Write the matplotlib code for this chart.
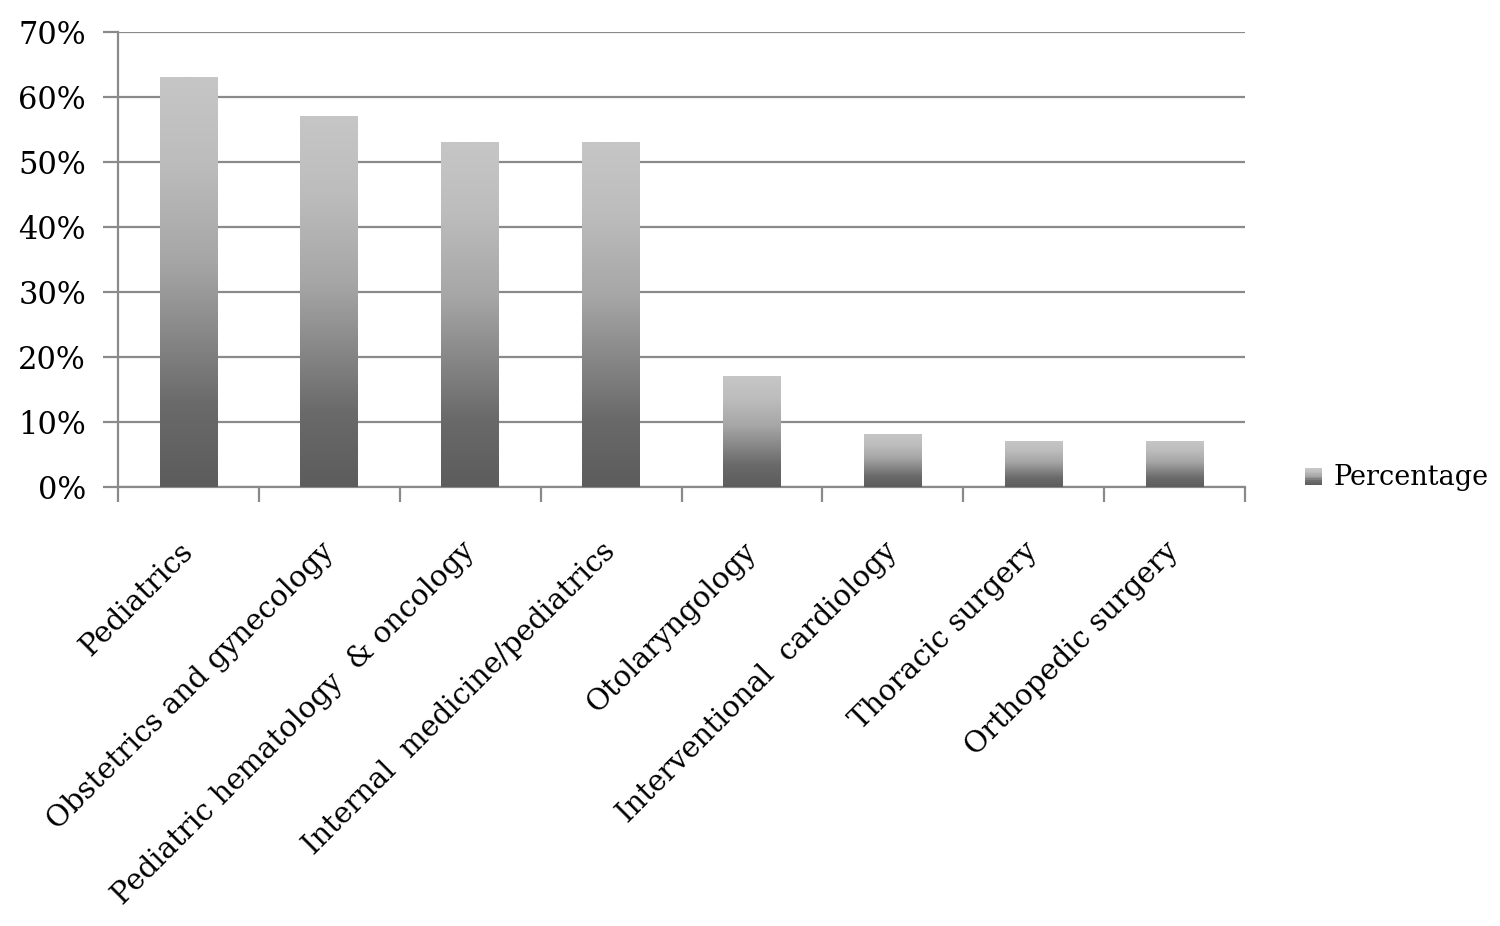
import numpy as np
import matplotlib
matplotlib.use("Agg")
import matplotlib.pyplot as plt
import matplotlib.transforms as mtransforms
from matplotlib.colors import LinearSegmentedColormap
from matplotlib.legend_handler import HandlerBase
from matplotlib.patches import Rectangle
from matplotlib.ticker import FuncFormatter, FixedLocator

categories = ["Pediatrics", "Obstetrics and gynecology", "Pediatric hematology  & oncology",
              "Internal  medicine/pediatrics", "Otolaryngology", "Interventional  cardiology",
              "Thoracic surgery", "Orthopedic surgery"]
percentage = [63, 57, 53, 53, 17, 8, 7, 7]
series_name = "Percentage"

plt.rcParams['font.family'] = ['DejaVu Serif']

cmap = LinearSegmentedColormap.from_list(
    "g", [(0.0, "#5c5c5c"), (0.2, "#6a6a6a"), (0.55, "#a6a6a6"), (0.8, "#bdbdbd"), (1.0, "#c6c6c6")])

fig = plt.figure(figsize=(15, 9.26), dpi=100)
ax = fig.add_axes([0.0787, 0.474, 0.7513, 0.4914])

x = np.arange(len(categories))
bars = ax.bar(x, percentage, width=0.41, color="none", edgecolor="none", zorder=3)
grad = np.linspace(0, 1, 256).reshape(-1, 1)
for b in bars:
    x0, w, h = b.get_x(), b.get_width(), b.get_height()
    ax.imshow(grad, cmap=cmap, origin="lower", aspect="auto",
              extent=(x0, x0 + w, 0, h), zorder=3, interpolation="bilinear")

ax.set_xlim(-0.5, len(categories) - 0.5)
ax.set_ylim(0, 70)
ax.yaxis.set_major_locator(FixedLocator(np.arange(0, 71, 10)))
ax.yaxis.set_major_formatter(FuncFormatter(lambda v, p: f"{int(v)}%"))
ax.grid(axis="y", color="#8a8a8a", linewidth=1.6, zorder=0)
ax.set_axisbelow(True)

for s in ["top", "right"]:
    ax.spines[s].set_visible(False)
for s in ["left", "bottom"]:
    ax.spines[s].set_color("#8a8a8a")
    ax.spines[s].set_linewidth(1.6)

ax.tick_params(axis="y", length=11, width=1.6, color="#8a8a8a", labelsize=22, pad=12)
ax.set_xticks(np.arange(-0.5, len(categories), 1.0))
ax.tick_params(axis="x", which="major", length=11, width=1.6, color="#8a8a8a", labelbottom=False)
ax.set_xticks(x, minor=True)
ax.set_xticklabels(categories, minor=True, rotation=45, ha="right", rotation_mode="anchor",
                   fontsize=21)
ax.tick_params(axis="x", which="minor", length=0, pad=36)
offset = mtransforms.ScaledTranslation(-10 / 100, 0, fig.dpi_scale_trans)
for lbl in ax.get_xticklabels(minor=True):
    lbl.set_transform(lbl.get_transform() + offset)

class GradHandler(HandlerBase):
    def create_artists(self, legend, orig_handle, xdescent, ydescent, width, height, fontsize, trans):
        arts = []
        n = 10
        size = height * 0.9
        x0 = xdescent + width - size
        for i in range(n):
            r = Rectangle((x0, -ydescent + i * size / n), size, size / n + 0.3,
                          facecolor=cmap(i / (n - 1)), edgecolor="none", transform=trans)
            arts.append(r)
        return arts

h = Rectangle((0, 0), 1, 1)
fig.legend([h], [series_name], handler_map={Rectangle: GradHandler()},
           loc="center left", bbox_to_anchor=(0.868, 0.484), frameon=False,
           fontsize=19.5, handlelength=0.75, handletextpad=0.4, borderpad=0, borderaxespad=0)

fig.savefig("out.png", dpi=100)
